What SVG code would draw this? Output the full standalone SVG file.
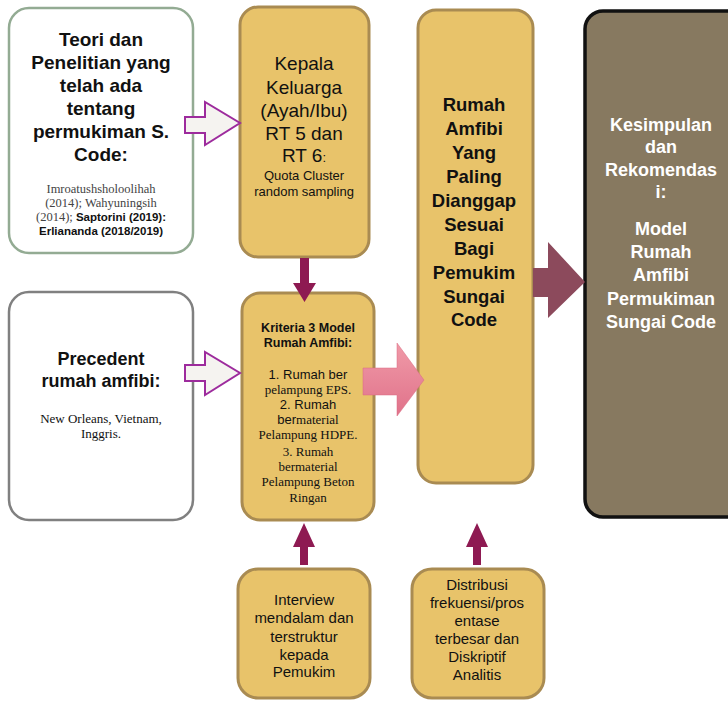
<svg xmlns="http://www.w3.org/2000/svg" width="728" height="701" viewBox="0 0 728 701">
<defs>
<style>
.sans{font-family:"Liberation Sans",Arial,sans-serif;}
.serif{font-family:"Liberation Serif","Times New Roman",serif;}
.b{font-weight:bold;}
.gold{fill:#e8c36a;stroke:#a98b52;stroke-width:3;}
.wa{fill:#f5f3f0;stroke:#9d2b9d;stroke-width:2;stroke-linejoin:miter;}
.ma{fill:#8e1a52;}
text{text-anchor:middle;fill:#111;}
</style>
<linearGradient id="pink" x1="0" y1="0" x2="0" y2="1">
<stop offset="0" stop-color="#f09aa8"/>
<stop offset="1" stop-color="#e0728a"/>
</linearGradient>
</defs>

<g id="teori">
<rect x="9" y="8" width="184" height="245" rx="20" fill="#fff" stroke="#93ab93" stroke-width="2.5"/>
<text class="sans b" font-size="19"><tspan x="101" y="46">Teori dan</tspan><tspan x="101" y="69">Penelitian yang</tspan><tspan x="101" y="92">telah ada</tspan><tspan x="101" y="115">tentang</tspan><tspan x="101" y="138">permukiman S.</tspan><tspan x="101" y="161">Code:</tspan></text>
<text class="serif" font-size="12.5" fill="#444"><tspan x="101" y="193" fill="#444">Imroatushsholoolihah</tspan><tspan x="101" y="207" fill="#444">(2014); Wahyuningsih</tspan></text>
<text font-size="12.5" x="101" y="221"><tspan class="serif" fill="#444">(2014); </tspan><tspan class="sans b" font-size="11.5">Saptorini (2019):</tspan></text>
<text class="sans b" font-size="11.5" x="101" y="235">Erliananda (2018/2019)</text>
</g>

<g id="precedent">
<rect x="9" y="292" width="184" height="228" rx="20" fill="#fff" stroke="#808080" stroke-width="2.5"/>
<text class="sans b" font-size="18"><tspan x="101" y="365">Precedent</tspan><tspan x="101" y="387">rumah amfibi:</tspan></text>
<text class="serif" font-size="13"><tspan x="101" y="423">New Orleans, Vietnam,</tspan><tspan x="101" y="438">Inggris.</tspan></text>
</g>

<g id="kepala">
<rect class="gold" x="240" y="7" width="129" height="250" rx="18"/>
<text class="sans" font-size="19"><tspan x="304" y="70">Kepala</tspan><tspan x="304" y="94">Keluarga</tspan><tspan x="304" y="117">(Ayah/Ibu)</tspan><tspan x="304" y="140">RT 5 dan</tspan><tspan x="304" y="162">RT 6<tspan font-size="13">:</tspan></tspan></text>
<text class="sans" font-size="13"><tspan x="304" y="180">Quota Cluster</tspan><tspan x="304" y="196">random sampling</tspan></text>
</g>

<g id="kriteria">
<rect class="gold" x="242" y="293" width="132" height="227" rx="18"/>
<text class="sans b" font-size="12.5"><tspan x="308" y="332">Kriteria 3 Model</tspan><tspan x="308" y="347">Rumah Amfibi:</tspan></text>
<text class="sans" font-size="13" x="308" y="379">1. Rumah ber</text>
<text class="serif" font-size="13" x="308" y="394">pelampung EPS.</text>
<text class="sans" font-size="13" x="308" y="409">2. Rumah</text>
<text font-size="13" x="308" y="424"><tspan class="sans">ber</tspan><tspan class="serif">material</tspan></text>
<text class="serif" font-size="13"><tspan x="308" y="439">Pelampung HDPE.</tspan><tspan x="308" y="456">3. Rumah</tspan><tspan x="308" y="471">bermaterial</tspan><tspan x="308" y="486">Pelampung Beton</tspan><tspan x="308" y="502">Ringan</tspan></text>
</g>

<g id="rumah-amfibi">
<rect class="gold" x="418" y="10" width="115" height="473" rx="18"/>
<text class="sans b" font-size="18.5"><tspan x="474" y="111">Rumah</tspan><tspan x="474" y="135">Amfibi</tspan><tspan x="474" y="159">Yang</tspan><tspan x="474" y="183">Paling</tspan><tspan x="474" y="207">Dianggap</tspan><tspan x="474" y="231">Sesuai</tspan><tspan x="474" y="255">Bagi</tspan><tspan x="474" y="279">Pemukim</tspan><tspan x="474" y="303">Sungai</tspan><tspan x="474" y="326">Code</tspan></text>
</g>

<g id="kesimpulan">
<rect x="585" y="11" width="160" height="506" rx="18" fill="#877960" stroke="#111" stroke-width="3.5"/>
<text class="sans b" font-size="18" style="fill:#fff"><tspan x="661" y="131">Kesimpulan</tspan><tspan x="661" y="153">dan</tspan><tspan x="661" y="176">Rekomendas</tspan><tspan x="661" y="198">i:</tspan><tspan x="661" y="235">Model</tspan><tspan x="661" y="258">Rumah</tspan><tspan x="661" y="281">Amfibi</tspan><tspan x="661" y="305">Permukiman</tspan><tspan x="661" y="328">Sungai Code</tspan></text>
</g>

<g id="interview">
<rect class="gold" x="238" y="569" width="132" height="129" rx="20"/>
<text class="sans" font-size="15"><tspan x="304" y="605">Interview</tspan><tspan x="304" y="623">mendalam dan</tspan><tspan x="304" y="642">terstruktur</tspan><tspan x="304" y="660">kepada</tspan><tspan x="304" y="677">Pemukim</tspan></text>
</g>

<g id="distribusi">
<rect class="gold" x="412" y="569" width="132" height="129" rx="20"/>
<text class="sans" font-size="15"><tspan x="477" y="590">Distribusi</tspan><tspan x="477" y="608">frekuensi/pros</tspan><tspan x="477" y="626">entase</tspan><tspan x="477" y="644">terbesar dan</tspan><tspan x="477" y="662">Diskriptif</tspan><tspan x="477" y="680">Analitis</tspan></text>
</g>

<g id="connectors">
<polygon class="wa" points="185,117 205,117 205,102 240,123 205,145 205,133 185,133"/>
<polygon class="wa" points="185,365 205,365 205,352 240,373 205,395 205,381 185,381"/>
<polygon class="ma" points="300,258 309,258 309,283 316,283 304.5,302 293,283 300,283"/>
<polygon fill="url(#pink)" stroke="#d86a80" stroke-width="0.5" points="363,368 397,368 397,343 424,380 397,416 397,395 363,395"/>
<polygon fill="#8c4a5c" points="533,268 548,268 548,242 585,282 548,318 548,297 533,297"/>
<polygon class="ma" points="300,565 308,565 308,547 315,547 304,523 293,547 300,547"/>
<polygon class="ma" points="473,565 481,565 481,547 488,547 477,523 466,547 473,547"/>
</g>
</svg>
